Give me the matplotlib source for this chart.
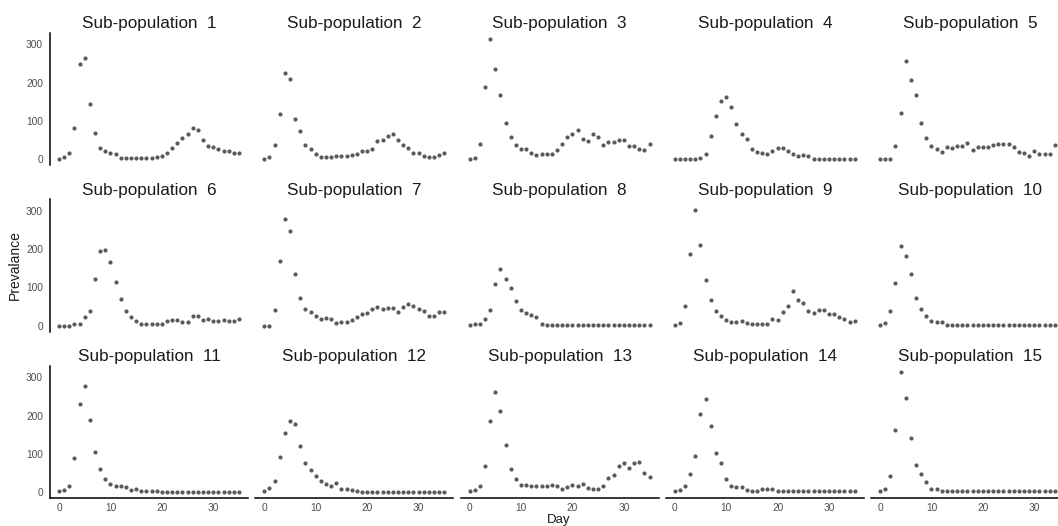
import numpy as np
import matplotlib
matplotlib.use("Agg")
import matplotlib.pyplot as plt

plt.rcParams["font.family"] = ["Liberation Sans", "DejaVu Sans"]

days = list(range(36))

sp1 = [1, 6, 16, 82, 248, 264, 145, 67, 30, 21, 17, 12, 2, 2, 2, 2, 2, 2, 2, 4,
       7, 15, 30, 43, 55, 65, 82, 75, 51, 34, 31, 27, 22, 22, 17, 17]
sp2 = [1, 6, 36, 119, 226, 210, 104, 72, 36, 27, 13, 6, 4, 6, 8, 9, 9, 10, 12, 22,
       22, 26, 47, 51, 60, 65, 50, 37, 28, 16, 16, 9, 5, 6, 10, 15]
sp3 = [0, 3, 39, 188, 314, 236, 168, 94, 58, 36, 27, 26, 15, 10, 13, 13, 13, 24, 39, 57,
       65, 76, 52, 48, 66, 58, 37, 45, 45, 51, 50, 33, 34, 26, 23, 38]
sp4 = [0, 0, 0, 0, 0, 3, 13, 60, 113, 151, 161, 137, 92, 65, 53, 27, 18, 16, 12, 22,
       30, 28, 22, 14, 9, 11, 9, 1, 1, 1, 1, 1, 1, 1, 1, 1]
sp5 = [0, 0, 1, 35, 120, 256, 208, 167, 94, 56, 34, 25, 19, 32, 29, 33, 35, 42, 23, 31,
       31, 31, 37, 40, 38, 38, 31, 18, 17, 9, 20, 14, 13, 13, 36, 36]
sp6 = [0, 0, 0, 3, 5, 23, 38, 122, 195, 198, 166, 115, 69, 39, 21, 13, 4, 4, 4, 4,
       3, 12, 15, 15, 8, 10, 25, 25, 14, 17, 13, 13, 14, 12, 11, 16]
sp7 = [0, 0, 40, 168, 278, 246, 134, 71, 44, 36, 24, 16, 19, 16, 7, 10, 10, 15, 23, 29,
       33, 44, 49, 43, 45, 45, 36, 49, 55, 51, 43, 38, 26, 26, 36, 36]
sp8 = [1, 3, 3, 16, 41, 109, 148, 121, 99, 64, 40, 33, 28, 21, 5, 2, 1, 1, 1, 1,
       1, 1, 1, 1, 1, 1, 1, 1, 1, 1, 1, 1, 1, 1, 1, 1]
sp9 = [2, 6, 50, 187, 303, 210, 120, 67, 38, 25, 15, 10, 10, 13, 6, 5, 5, 5, 5, 17,
       14, 35, 50, 90, 68, 60, 37, 34, 40, 40, 31, 30, 23, 18, 9, 13]
sp10 = [2, 6, 38, 111, 208, 183, 136, 72, 44, 24, 13, 9, 9, 2, 1, 1, 1, 1, 1, 1,
        1, 1, 1, 1, 1, 1, 1, 1, 1, 1, 1, 1, 1, 1, 1, 1]
sp11 = [2, 5, 16, 89, 230, 278, 189, 105, 61, 35, 22, 15, 15, 12, 6, 7, 3, 3, 3, 3,
        1, 1, 1, 1, 1, 1, 1, 1, 1, 1, 1, 1, 1, 1, 1, 1]
sp12 = [2, 10, 30, 92, 155, 185, 178, 121, 77, 57, 43, 29, 22, 16, 23, 8, 8, 4, 2, 1,
        1, 1, 1, 1, 1, 1, 1, 1, 1, 1, 1, 1, 1, 1, 1, 1]
sp13 = [2, 4, 16, 67, 187, 262, 212, 124, 61, 35, 18, 18, 15, 16, 16, 16, 18, 17, 8, 12,
        18, 16, 21, 10, 8, 8, 16, 37, 45, 67, 77, 64, 77, 79, 51, 39]
sp14 = [2, 4, 16, 48, 94, 203, 244, 174, 102, 76, 34, 17, 13, 13, 4, 3, 3, 8, 7, 7,
        3, 2, 2, 2, 2, 2, 2, 2, 2, 2, 2, 2, 2, 2, 2, 2]
sp15 = [2, 8, 41, 163, 313, 246, 142, 70, 46, 26, 9, 7, 3, 3, 3, 3, 3, 3, 2, 2,
        2, 2, 2, 2, 2, 2, 2, 2, 2, 2, 2, 2, 2, 2, 2, 2]

series = [sp1, sp2, sp3, sp4, sp5, sp6, sp7, sp8, sp9, sp10, sp11, sp12, sp13, sp14, sp15]
titles = [f"Sub-population  {i + 1}" for i in range(len(series))]
x_ticks = [0, 10, 20, 30]
y_ticks = [0, 100, 200, 300]

W, H = 1058, 526
fig = plt.figure(figsize=(W / 100, H / 100), dpi=100)
fig.patch.set_facecolor("white")

# panel geometry in pixels (ggplot-like facet grid)
left0, col_step, pw = 50, 205.25, 198
top0, row_step, ph = 33, 166.5, 132

ymax = max(max(s) for s in series)
ylo, yhi = -0.05 * ymax, ymax * 1.05
xlo, xhi = -0.05 * 35, 35 * 1.05

tick_col = "#4d4d4d"
for i, vals in enumerate(series):
    r, c = divmod(i, 5)
    x0 = left0 + c * col_step
    y0 = top0 + r * row_step
    ax = fig.add_axes([x0 / W, 1 - (y0 + ph) / H, pw / W, ph / H])
    ax.scatter(days, vals, s=9, color="#5a5a5a", linewidths=0, zorder=3)
    ax.set_xlim(xlo, xhi)
    ax.set_ylim(ylo, yhi)
    ax.set_facecolor("white")
    for side in ["top", "right", "left", "bottom"]:
        ax.spines[side].set_visible(False)
    ax.tick_params(length=0, labelsize=7.3, labelcolor=tick_col)
    ax.tick_params(axis="y", pad=5)
    ax.tick_params(axis="x", pad=3.5)
    ax.set_xticks(x_ticks)
    ax.set_yticks(y_ticks)
    if c == 0:
        ax.spines["left"].set_visible(True)
        ax.spines["left"].set_color("black")
        ax.spines["left"].set_linewidth(1.1)
    else:
        ax.set_yticklabels([])
    if r == 2:
        ax.spines["bottom"].set_visible(True)
        ax.spines["bottom"].set_color("black")
        ax.spines["bottom"].set_linewidth(1.1)
    else:
        ax.set_xticklabels([])
    ax.set_title(titles[i], fontsize=12.3, color="#1a1a1a", pad=3.5)

fig.text(559 / W, 0.5 / H, "Day", ha="center", va="bottom", fontsize=9.5, color="#1a1a1a")
fig.text(15 / W, 1 - 265 / H, "Prevalance", ha="center", va="center", rotation=90,
         fontsize=10, color="#1a1a1a")

fig.savefig("out.png", dpi=100, facecolor="white")
